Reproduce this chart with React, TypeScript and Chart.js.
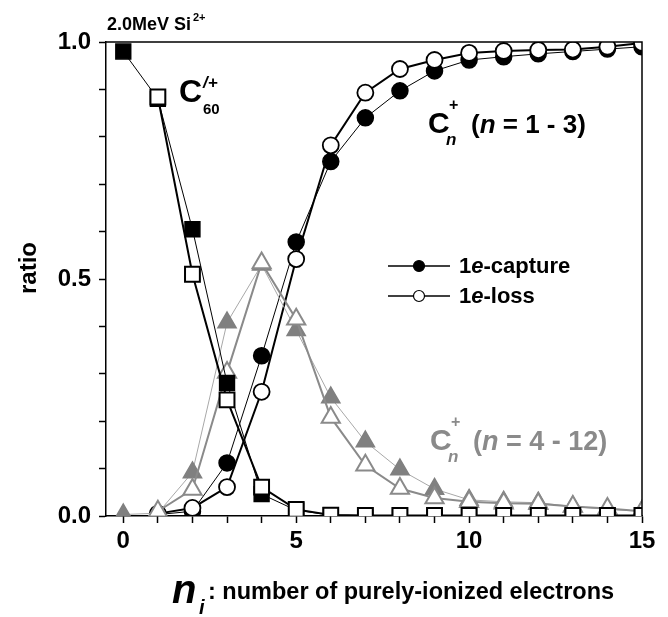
import React, { useEffect, useRef } from 'react';
import { Chart, registerables } from 'chart.js';

Chart.register(...registerables);

// ---- data ----
const nValues = [0, 1, 2, 3, 4, 5, 6, 7, 8, 9, 10, 11, 12, 13, 14, 15];

// C60 r+ (squares)
const c60Capture = [0.98, 0.88, 0.605, 0.281, 0.046, 0.012, 0.002, 0.001, 0.001, 0.001, 0.001, 0.001, 0.001, 0.001, 0.001, 0.001];
const c60Loss = [null, 0.884, 0.51, 0.245, 0.061, 0.014, 0.002, 0.001, 0.001, 0.001, 0.001, 0.001, 0.001, 0.001, 0.001, 0.001];

// Cn+ n = 1 - 3 (circles)
const smallCapture = [null, 0.003, 0.01, 0.112, 0.338, 0.578, 0.748, 0.84, 0.897, 0.939, 0.962, 0.969, 0.975, 0.98, 0.985, 0.99];
const smallLoss = [null, 0.005, 0.017, 0.061, 0.262, 0.542, 0.782, 0.893, 0.943, 0.962, 0.977, 0.981, 0.983, 0.984, 0.99, 0.998];

// Cn+ n = 4 - 12 (triangles)
const largeCapture = [0.003, 0.006, 0.092, 0.408, 0.53, 0.392, 0.25, 0.157, 0.098, 0.057, 0.034, 0.03, 0.028, 0.02, 0.014, 0.01];
const largeLoss = [null, 0.01, 0.056, 0.303, 0.534, 0.415, 0.208, 0.107, 0.058, 0.038, 0.03, 0.027, 0.026, 0.02, 0.016, 0.01];

const xTickLabels = [0, 5, 10, 15];
const yTickLabels = [0, 0.5, 1.0];

const FONT = '"Liberation Sans", Arial, sans-serif';
const GRAY = '#8a8a8a';

function pts(arr: (number | null)[]) {
  return nValues
    .map((n, i) => ({ x: n, y: arr[i] }))
    .filter((p) => p.y !== null) as { x: number; y: number }[];
}

type Part = { t: string; size: number; italic?: boolean; dy?: number; dx?: number; color?: string };

function rich(ctx: CanvasRenderingContext2D, x: number, y: number, parts: Part[], color = '#000') {
  let cx = x;
  for (const p of parts) {
    ctx.font = `${p.italic ? 'italic ' : ''}bold ${p.size}px ${FONT}`;
    ctx.fillStyle = p.color || color;
    ctx.textBaseline = 'alphabetic';
    ctx.textAlign = 'left';
    cx += p.dx || 0;
    ctx.fillText(p.t, cx, y + (p.dy || 0));
    cx += ctx.measureText(p.t).width;
  }
}

const decorPlugin = {
  id: 'decor',
  afterDraw(chart: any) {
    const ctx: CanvasRenderingContext2D = chart.ctx;
    const a = chart.chartArea;
    ctx.save();
    // frame (top / right)
    ctx.strokeStyle = '#000';
    ctx.lineWidth = 1.5;
    ctx.beginPath();
    ctx.moveTo(a.left, a.top);
    ctx.lineTo(a.right, a.top);
    ctx.lineTo(a.right, a.bottom);
    ctx.stroke();

    // title
    rich(ctx, 107, 30, [{ t: '2.0MeV Si', size: 18 }]);
    rich(ctx, 193, 21, [{ t: '2+', size: 11 }]);

    // C60 label
    rich(ctx, 179, 102, [{ t: 'C', size: 32 }]);
    rich(ctx, 203, 88, [{ t: '/+', size: 17, italic: true }]);
    rich(ctx, 203, 114, [{ t: '60', size: 15 }]);

    // Cn+ (n = 1 - 3)
    rich(ctx, 428, 133, [{ t: 'C', size: 30 }]);
    rich(ctx, 449, 110, [{ t: '+', size: 16 }]);
    rich(ctx, 446, 145, [{ t: 'n', size: 17, italic: true }]);
    rich(ctx, 471, 133, [
      { t: '(', size: 26 },
      { t: 'n', size: 26, italic: true },
      { t: ' = 1 - 3)', size: 26 },
    ]);

    // Cn+ (n = 4 - 12)
    rich(ctx, 430, 450, [{ t: 'C', size: 30 }], GRAY);
    rich(ctx, 451, 427, [{ t: '+', size: 16 }], GRAY);
    rich(ctx, 448, 462, [{ t: 'n', size: 17, italic: true }], GRAY);
    rich(ctx, 473, 450, [
      { t: '(', size: 27 },
      { t: 'n', size: 27, italic: true },
      { t: ' = 4 - 12)', size: 27 },
    ], GRAY);

    // legend
    const legendRows = [
      { y: 266, fill: '#000', label: '-capture' },
      { y: 296, fill: '#fff', label: '-loss' },
    ];
    for (const r of legendRows) {
      ctx.strokeStyle = '#000';
      ctx.lineWidth = 1.5;
      ctx.beginPath();
      ctx.moveTo(388, r.y);
      ctx.lineTo(450, r.y);
      ctx.stroke();
      ctx.beginPath();
      ctx.arc(419, r.y, 5.5, 0, Math.PI * 2);
      ctx.fillStyle = r.fill;
      ctx.fill();
      ctx.lineWidth = 1.2;
      ctx.stroke();
      rich(ctx, 459, r.y + 7, [
        { t: '1', size: 22 },
        { t: 'e', size: 22, italic: true },
        { t: r.label, size: 22 },
      ]);
    }

    // y title
    ctx.save();
    ctx.translate(36, 268);
    ctx.rotate(-Math.PI / 2);
    ctx.font = `bold 24px ${FONT}`;
    ctx.fillStyle = '#000';
    ctx.textAlign = 'center';
    ctx.textBaseline = 'alphabetic';
    ctx.fillText('ratio', 0, 0);
    ctx.restore();

    // x title
    rich(ctx, 172, 603, [{ t: 'n', size: 40, italic: true }]);
    rich(ctx, 199, 614, [{ t: 'i', size: 20, italic: true }]);
    rich(ctx, 208, 599, [{ t: ': number of purely-ionized electrons', size: 23.5 }]);

    ctx.restore();
  },
};

export default function App() {
  const ref = useRef<HTMLCanvasElement | null>(null);

  useEffect(() => {
    if (!ref.current) return;
    const chart = new Chart(ref.current, {
      type: 'line',
      data: {
        datasets: [
          {
            label: 'C60 1e-loss',
            data: pts(c60Loss),
            borderColor: '#000',
            borderWidth: 2,
            pointStyle: 'rect',
            pointRadius: 10.5,
            pointBackgroundColor: '#fff',
            pointBorderColor: '#000',
            pointBorderWidth: 2,
          },
          {
            label: 'C60 1e-capture',
            data: pts(c60Capture),
            borderColor: '#000',
            borderWidth: 1,
            pointStyle: 'rect',
            pointRadius: 10.5,
            pointBackgroundColor: '#000',
            pointBorderColor: '#000',
            pointBorderWidth: 1.5,
          },
          {
            label: 'Cn 4-12 1e-loss',
            data: pts(largeLoss),
            borderColor: GRAY,
            borderWidth: 2,
            pointStyle: 'triangle',
            pointRadius: 10.5,
            pointBackgroundColor: '#fff',
            pointBorderColor: GRAY,
            pointBorderWidth: 2,
          },
          {
            label: 'Cn 4-12 1e-capture',
            data: pts(largeCapture),
            borderColor: '#a8a8a8',
            borderWidth: 1,
            pointStyle: 'triangle',
            pointRadius: 10.5,
            pointBackgroundColor: '#808080',
            pointBorderColor: '#808080',
            pointBorderWidth: 1.5,
          },
          {
            label: 'Cn 1-3 1e-loss',
            data: pts(smallLoss),
            borderColor: '#000',
            borderWidth: 2,
            pointStyle: 'circle',
            pointRadius: 8,
            pointBackgroundColor: '#fff',
            pointBorderColor: '#000',
            pointBorderWidth: 1.8,
          },
          {
            label: 'Cn 1-3 1e-capture',
            data: pts(smallCapture),
            borderColor: '#000',
            borderWidth: 1,
            pointStyle: 'circle',
            pointRadius: 8,
            pointBackgroundColor: '#000',
            pointBorderColor: '#000',
            pointBorderWidth: 1.5,
          },
        ],
      },
      options: {
        responsive: false,
        animation: false,
        events: [],
        layout: { padding: { left: 0, right: 26, top: 42, bottom: 0 } },
        elements: { line: { tension: 0, fill: false } },
        plugins: {
          legend: { display: false },
          tooltip: { enabled: false },
          title: { display: false },
        },
        scales: {
          x: {
            type: 'linear',
            min: -0.5,
            max: 15,
            afterBuildTicks: (scale: any) => {
              scale.ticks = nValues.map((v) => ({ value: v }));
            },
            afterFit: (scale: any) => {
              scale.height = 101;
            },
            ticks: {
              stepSize: 1,
              autoSkip: false,
              maxRotation: 0,
              padding: 4,
              color: '#000',
              font: { family: FONT, weight: 'bold', size: 24 },
              callback: (v: any) => (xTickLabels.includes(Number(v)) ? String(v) : ''),
            },
            grid: {
              drawOnChartArea: false,
              drawTicks: true,
              tickLength: 7,
              tickColor: '#000',
              tickWidth: 1.5,
            },
            border: { display: true, color: '#000', width: 1.5 },
          },
          y: {
            type: 'linear',
            min: 0,
            max: 1,
            afterFit: (scale: any) => {
              scale.width = 106;
            },
            ticks: {
              stepSize: 0.1,
              autoSkip: false,
              padding: 8,
              color: '#000',
              font: { family: FONT, weight: 'bold', size: 24 },
              callback: (v: any) => {
                const val = Math.round(Number(v) * 10) / 10;
                return yTickLabels.some((t) => Math.abs(t - val) < 1e-6) ? val.toFixed(1) : '';
              },
            },
            grid: {
              drawOnChartArea: false,
              drawTicks: true,
              tickLength: 7,
              tickColor: '#000',
              tickWidth: 1.5,
            },
            border: { display: true, color: '#000', width: 1.5 },
          },
        },
      } as any,
      plugins: [decorPlugin],
    });
    return () => chart.destroy();
  }, []);

  return (
    <div style={{ position: 'absolute', left: 0, top: 0, width: 668, height: 617, background: '#fff' }}>
      <canvas ref={ref} width={668} height={617} />
    </div>
  );
}
